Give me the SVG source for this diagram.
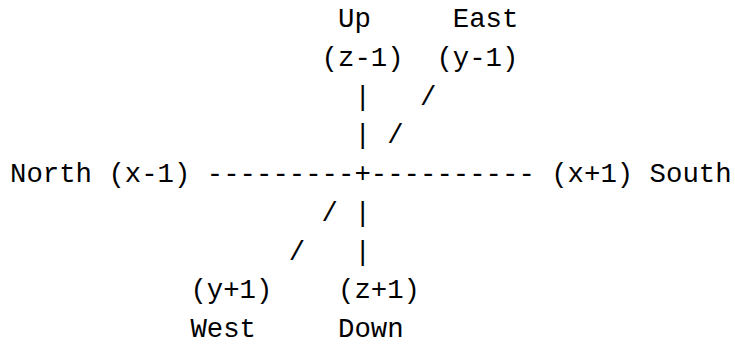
<svg xmlns="http://www.w3.org/2000/svg" width="735" height="344" viewBox="0 0 735 344">
<style>
text { font-family: "Liberation Mono", "DejaVu Sans Mono", monospace; font-size: 27.33px; fill: #000; white-space: pre; }
</style>
<rect width="735" height="344" fill="#fff"/>
<g id="node-up">
<text x="338" y="27">Up</text>
<text x="321.6" y="65.75">(z-1)</text>
</g>
<g id="node-east">
<text x="452.8" y="27">East</text>
<text x="436.4" y="65.75">(y-1)</text>
</g>
<g id="node-north">
<text x="10" y="182">North (x-1)</text>
</g>
<g id="node-south">
<text x="551.2" y="182">(x+1) South</text>
</g>
<g id="node-west">
<text x="190.4" y="298.25">(y+1)</text>
<text x="190.4" y="337">West</text>
</g>
<g id="node-down">
<text x="338" y="298.25">(z+1)</text>
<text x="338" y="337">Down</text>
</g>
<g id="connectors">
<text x="354.4" y="104.5">|</text>
<text x="420" y="104.5">/</text>
<text x="354.4" y="143.25">|</text>
<text x="387.2" y="143.25">/</text>
<text x="206.8" y="182">---------+----------</text>
<text x="321.6" y="220.75">/</text>
<text x="354.4" y="220.75">|</text>
<text x="288.8" y="259.5">/</text>
<text x="354.4" y="259.5">|</text>
</g>
</svg>
